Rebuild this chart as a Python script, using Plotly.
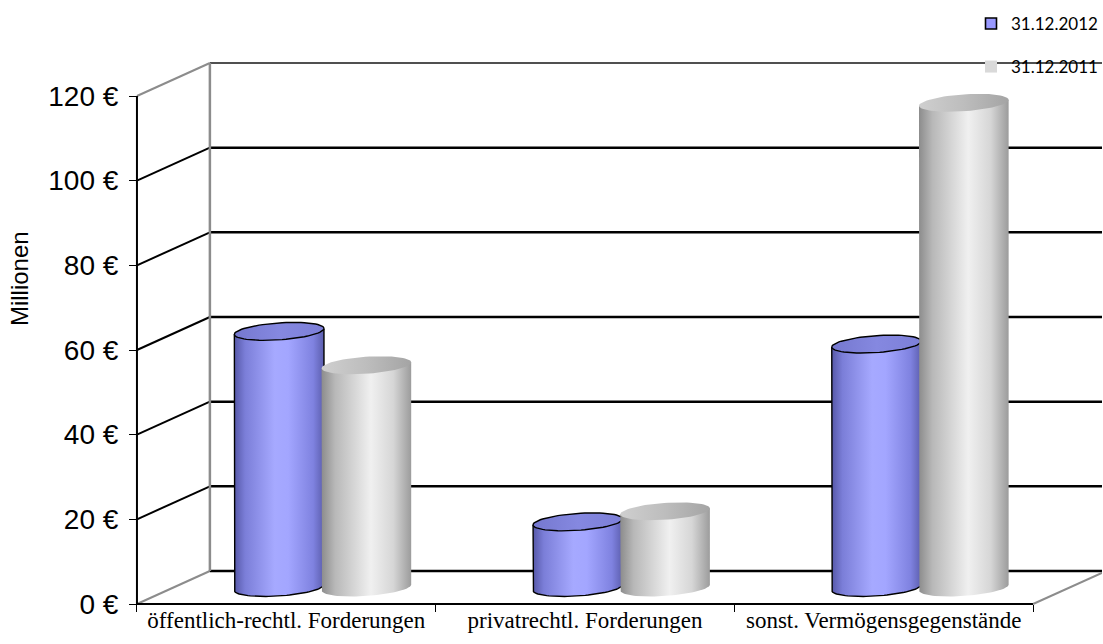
import numpy as np
import plotly.graph_objects as go

# ---------------- data ----------------
categories = ["öffentlich-rechtl. Forderungen", "privatrechtl. Forderungen", "sonst. Vermögensgegenstände"]
series_names = ["31.12.2012", "31.12.2011"]
values_2012 = [60.5, 15.5, 57.5]
values_2011 = [52.5, 18.0, 114.5]
y_tick_values = [0, 20, 40, 60, 80, 100, 120]
y_tick_labels = ["0 €", "20 €", "40 €", "60 €", "80 €", "100 €", "120 €"]
y_title = "Millionen"

# ---------------- geometry / style ----------------
W, H = 1103, 644
ML, MR, MT, MB = 100, 0, 10, 20
AX_X_PX, AX_Y_PX = 137, 604          # pixel position of the front axis corner
PX_X = 299.0                          # pixels per category
PX_Y = 508.0 / 120.0                  # pixels per value unit
DX = 73.0 / PX_X                      # depth offset (x units)
DY = 33.0 / PX_Y                      # depth offset (value units)
plot_w = W - ML - MR
plot_h = H - MT - MB
x_range = [-0.5 - (AX_X_PX - ML) / PX_X, -0.5 + (W - MR - AX_X_PX) / PX_X]
y_range = [-(H - MB - AX_Y_PX) / PX_Y, (AX_Y_PX - MT) / PX_Y]

OFFS = [-0.146, 0.146]
RX = 0.150
RY = 2.0
TILT = 0.7

body_scales = [
    [[0, "#5658a8"], [0.12, "#7b7ed8"], [0.45, "#a6a9ff"], [0.6, "#a3a6ff"], [0.88, "#7f82e0"], [1, "#5c5eae"]],
    [[0, "#8c8c8c"], [0.15, "#b8b8b8"], [0.55, "#f0f0f0"], [0.8, "#d6d6d6"], [1, "#9c9c9c"]],
]
cap_scales = [
    [[0, "#7578cf"], [0.5, "#8588e0"], [1, "#7c7fd8"]],
    [[0, "#cfcfcf"], [0.5, "#bdbdbd"], [1, "#a4a4a4"]],
]
outline = ["black", None]
legend_colors = ["#9999ff", "#d9d9d9"]

fig = go.Figure()

def ell(cx, cy, t0, t1, n=48):
    th = np.linspace(t0, t1, n)
    return cx + RX * np.cos(th), cy + RY * np.sin(th) + TILT * np.cos(th)

series_values = [values_2012, values_2011]
base_y = DY / 2
for i, cat in enumerate(categories):
    for s, vals in enumerate(series_values):
        v = vals[i]
        cx = i + OFFS[s] + DX / 2
        yt = v + base_y
        bx, by = ell(cx, base_y, np.pi, 2 * np.pi)
        xs = [cx - RX] + list(bx) + [cx + RX]
        ys = [yt - TILT] + list(by) + [yt + TILT]
        line = dict(color=outline[s], width=1.4) if outline[s] else dict(width=0)
        fig.add_trace(go.Scatter(
            x=xs, y=ys, mode="lines", fill="toself", line=line,
            fillgradient=dict(type="horizontal", colorscale=body_scales[s]),
            showlegend=False, hoverinfo="skip"))
        tx, ty = ell(cx, yt, 0, 2 * np.pi, 72)
        fig.add_trace(go.Scatter(
            x=tx, y=ty, mode="lines", fill="toself", line=line,
            fillgradient=dict(type="horizontal", colorscale=cap_scales[s]),
            showlegend=False, name=f"{series_names[s]}: {v}",
            hovertemplate=f"{cat}<br>{series_names[s]}: %{{customdata}} Mio €<extra></extra>",
            customdata=[v] * len(tx)))

# legend entries
fig.add_trace(go.Scatter(x=[None], y=[None], mode="markers", name=series_names[0],
                         marker=dict(symbol="square", size=11, color=legend_colors[0],
                                     line=dict(color="black", width=1.6)),
                         legend="legend"))
fig.add_trace(go.Scatter(x=[None], y=[None], mode="markers", name=series_names[1],
                         marker=dict(symbol="square", size=12, color=legend_colors[1],
                                     line=dict(width=0)),
                         legend="legend2"))

# ---------------- 3D frame ----------------
shapes = []
x0 = -0.5
xb = x0 + DX
x_end = x_range[1]
grey = "#8c8c8c"
for v in y_tick_values:
    edge = v in (0, 120)
    # diagonal from front axis to back wall
    shapes.append(dict(type="line", xref="x", yref="y", x0=x0, y0=v, x1=xb, y1=v + DY,
                       line=dict(color=grey if edge else "black", width=2), layer="below"))
    # back wall gridline
    shapes.append(dict(type="line", xref="x", yref="y", x0=xb, y0=v + DY, x1=x_end, y1=v + DY,
                       line=dict(color="#505050" if v == 120 else "black", width=2 if v == 120 else 2.5),
                       layer="below"))
# back wall left edge
shapes.append(dict(type="line", xref="x", yref="y", x0=xb, y0=DY, x1=xb, y1=120 + DY,
                   line=dict(color=grey, width=2.5), layer="below"))
# front vertical axis
shapes.append(dict(type="line", xref="x", yref="y", x0=x0, y0=0, x1=x0, y1=120,
                   line=dict(color="black", width=2), layer="below"))
# floor front edge and right edge
shapes.append(dict(type="line", xref="x", yref="y", x0=x0, y0=0, x1=x0 + len(categories), y1=0,
                   line=dict(color="black", width=2), layer="below"))
shapes.append(dict(type="line", xref="x", yref="y", x0=x0 + len(categories), y0=0,
                   x1=x0 + len(categories) + DX, y1=DY,
                   line=dict(color=grey, width=2), layer="below"))

fig.update_layout(
    width=W, height=H,
    margin=dict(l=ML, r=MR, t=MT, b=MB),
    paper_bgcolor="white", plot_bgcolor="white",
    shapes=shapes,
    xaxis=dict(range=x_range, showgrid=False, zeroline=False, showline=False,
               anchor="free", position=(H - MB - AX_Y_PX) / plot_h,
               tickmode="array", tickvals=list(range(len(categories))), ticktext=categories,
               ticks="outside", ticklen=0, tickcolor="rgba(0,0,0,0)", ticklabelstandoff=-5,
               tickfont=dict(family="Liberation Serif", size=23, color="black"),
               minor=dict(tickmode="array", tickvals=[x0 + k for k in range(len(categories) + 1)],
                          ticks="outside", ticklen=7, tickcolor="black", tickwidth=1.2),
               fixedrange=True),
    yaxis=dict(range=y_range, showgrid=False, zeroline=False, showline=False,
               anchor="free", position=(AX_X_PX - ML) / plot_w,
               tickmode="array", tickvals=y_tick_values, ticktext=y_tick_labels,
               ticks="outside", ticklen=8, tickcolor="black", tickwidth=1,
               ticklabelstandoff=5,
               tickfont=dict(family="Liberation Sans", size=28, color="black"),
               fixedrange=True),
    legend=dict(x=(972 - ML) / plot_w, y=(H - MB - 6) / plot_h, xanchor="left", yanchor="top",
                bgcolor="rgba(0,0,0,0)", font=dict(family="Lato", size=17, color="black")),
    legend2=dict(x=(972 - ML) / plot_w, y=(H - MB - 49) / plot_h, xanchor="left", yanchor="top",
                 bgcolor="rgba(0,0,0,0)", font=dict(family="Lato", size=17, color="black")),
    annotations=[dict(text=y_title, xref="paper", yref="paper",
                      x=(19 - ML) / plot_w, y=(H - MB - 279) / plot_h,
                      xanchor="center", yanchor="middle", textangle=-90, showarrow=False,
                      font=dict(family="Liberation Sans", size=24, color="black"))],
    showlegend=True,
)

fig.write_html("out.html")
